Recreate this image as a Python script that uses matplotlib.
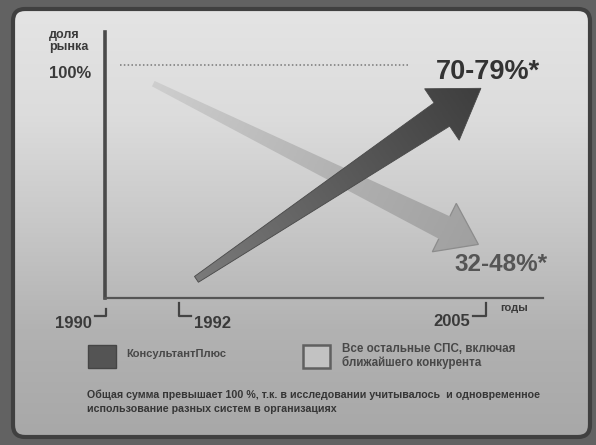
import numpy as np
import matplotlib
matplotlib.use("Agg")
import matplotlib.pyplot as plt
from matplotlib.patches import Polygon, FancyBboxPatch, Rectangle
from matplotlib.colors import LinearSegmentedColormap

plt.rcParams["font.family"] = ["Liberation Sans", "DejaVu Sans"]

W, H = 596, 445

# data (years / market share, %)
tick_years = [1990, 1992, 2005]
tick_marks = [1990, 1992.9, 2005]
kp_start = (1993.6, 8)
kp_end = (2004.8, 90)
other_start = (1991.9, 92)
other_end = (2004.7, 23)
kp_label = "70-79%*"
other_label = "32-48%*"
legend_labels = ["КонсультантПлюс", "Все остальные СПС, включая\nближайшего конкурента"]
footnote = ("Общая сумма превышает 100 %, т.к. в исследовании учитывалось  и одновременное\n"
            "использование разных систем в организациях")

fig = plt.figure(figsize=(W / 100, H / 100), dpi=100)
fig.patch.set_facecolor("#626262")

# background axes in pixel coordinates (top origin)
bg = fig.add_axes([0, 0, 1, 1], zorder=0)
bg.set_axis_off()

# main axes: years vs share
ax = fig.add_axes([105 / W, (H - 298) / H, 438 / W, 266 / H], zorder=1)
ax.set_xlim(1990, 1990 + 438 / 25.4)
ax.set_ylim(0, 100 + 33 / 2.33)
ax.patch.set_alpha(0)
for s in ["top", "right"]:
    ax.spines[s].set_visible(False)
ax.spines["left"].set_linewidth(2.6)
ax.spines["left"].set_color("#4a4a4a")
ax.spines["bottom"].set_linewidth(1.6)
ax.spines["bottom"].set_color("#555555")
ax.set_xticks([])
ax.set_yticks([])


def to_px(x, y):
    d = ax.transData.transform((x, y))
    return np.array([d[0], H - d[1]])


def gradient_fill(patch, p0, p1, colors, z):
    bg.add_patch(patch)
    verts = patch.get_path().vertices if not hasattr(patch, "get_xy") else patch.get_xy()
    xmin, ymin = np.min(verts, axis=0) - 2
    xmax, ymax = np.max(verts, axis=0) + 2
    xs = np.linspace(xmin, xmax, 200)
    ys = np.linspace(ymin, ymax, 200)
    X, Y = np.meshgrid(xs, ys)
    d = np.array(p1) - np.array(p0)
    L = np.hypot(*d)
    t = ((X - p0[0]) * d[0] + (Y - p0[1]) * d[1]) / L ** 2
    cmap = LinearSegmentedColormap.from_list("g", colors)
    im = bg.imshow(np.clip(t, 0, 1), cmap=cmap, vmin=0, vmax=1, origin="upper",
                   extent=(xmin, xmax, ymax, ymin), aspect="auto", zorder=z,
                   interpolation="bilinear")
    im.set_clip_path(patch)


# panel
panel = FancyBboxPatch((13, 9), 577, 428, boxstyle="round,pad=0,rounding_size=12",
                       facecolor="none", edgecolor="#404040", linewidth=3, zorder=1)
gradient_fill(panel, (0, 9), (0, 437),
              ["#e4e4e4", "#dcdcdc", "#c8c8c8", "#b2b2b2", "#a8a8a8"], 0.5)


def arrow_poly(p0, p1, w0, w1, head_w, head_l):
    d = p1 - p0
    u = d / np.hypot(*d)
    n = np.array([-u[1], u[0]])
    base = p1 - u * head_l
    return np.array([p0 + n * w0 / 2, base + n * w1 / 2, base + n * head_w / 2, p1,
                     base - n * head_w / 2, base - n * w1 / 2, p0 - n * w0 / 2])


# other SPS arrow (light, fading toward the tail)
a0, a1 = to_px(*other_start), to_px(*other_end)
pts = arrow_poly(a0, a1, 6, 25, 54, 38)
light = Polygon(pts, closed=True, facecolor="none", edgecolor="none", zorder=3)
gradient_fill(light, a0, a1, ["#cecece", "#bdbdbd", "#adadad", "#a0a0a0"], 2)
head = Polygon(pts[1:6], closed=False, facecolor="none", edgecolor="#8c8c8c", linewidth=0.9, zorder=3)
bg.add_patch(head)

# KonsultantPlus arrow (dark)
b0, b1 = to_px(*kp_start), to_px(*kp_end)
pts = arrow_poly(b0, b1, 7, 28, 62, 47)
dark = Polygon(pts, closed=True, facecolor="none", edgecolor="#484848", linewidth=0.6, zorder=5)
gradient_fill(dark, b0, b1, ["#7a7a7a", "#5c5c5c", "#3e3e3e"], 4)

# 100% dotted line
ax.plot([1990.6, 2002.0], [100, 100], linestyle=(0, (1, 1.5)), color="#777777", linewidth=1.1)

txt = "#3a3a3a"
bg.text(49, 41, "доля\nрынка", fontsize=9, fontweight="bold", color=txt,
        va="center", ha="left", multialignment="left", linespacing=0.95, zorder=6)
p = to_px(1990, 100)
bg.text(49, p[1] + 8, "100%", fontsize=12, fontweight="bold", color=txt, va="center", ha="left", zorder=6)

tp = to_px(*kp_end)
bg.text(tp[0] + 7, tp[1] - 16, kp_label, fontsize=19.5, fontweight="bold", color="#333333",
        ha="center", va="center", zorder=6)
tp = to_px(*other_end)
bg.text(tp[0] + 23, tp[1] + 20, other_label, fontsize=17.5, fontweight="bold", color="#555555",
        ha="center", va="center", zorder=6)

# year brackets
lc = "#444444"
x0 = to_px(tick_marks[0], 0)[0]
bg.plot([x0 - 10, x0 + 1, x0 + 1], [316, 316, 309], color=lc, lw=1.6, zorder=6)
bg.text(x0 - 13, 323, str(tick_years[0]), fontsize=12, fontweight="bold", color=txt,
        ha="right", va="center", zorder=6)
x1 = to_px(tick_marks[1], 0)[0]
bg.plot([x1, x1, x1 + 12], [303, 316, 316], color=lc, lw=1.6, zorder=6)
bg.text(x1 + 15, 323, str(tick_years[1]), fontsize=12, fontweight="bold", color=txt,
        ha="left", va="center", zorder=6)
x2 = to_px(tick_marks[2], 0)[0]
bg.plot([x2 - 13, x2, x2], [316, 316, 303], color=lc, lw=1.6, zorder=6)
bg.text(x2 - 16, 322, str(tick_years[2]), fontsize=12, fontweight="bold", color=txt,
        ha="right", va="center", zorder=6)
bg.text(500, 308, "годы", fontsize=8, fontweight="bold", color=txt, ha="left", va="center", zorder=6)

# legend
bg.add_patch(Rectangle((88, 345), 28, 23, facecolor="#545454", edgecolor="#454545", lw=1, zorder=6))
bg.text(126, 354, legend_labels[0], fontsize=8, fontweight="bold", color="#484848",
        ha="left", va="center", zorder=6)
bg.add_patch(Rectangle((303, 345), 27, 23, facecolor="#c2c2c2", edgecolor="#606060", lw=1.8, zorder=6))
bg.text(342, 356, legend_labels[1], fontsize=8.4, fontweight="bold", color="#484848",
        ha="left", va="center", linespacing=1.0, zorder=6)

# footnote
bg.text(87, 401.5, footnote, fontsize=7.7, fontweight="bold", color="#363636", ha="left", va="center",
        linespacing=1.55, zorder=6)

bg.set_xlim(0, W)
bg.set_ylim(H, 0)

fig.savefig("out.png", dpi=100, facecolor=fig.get_facecolor())
